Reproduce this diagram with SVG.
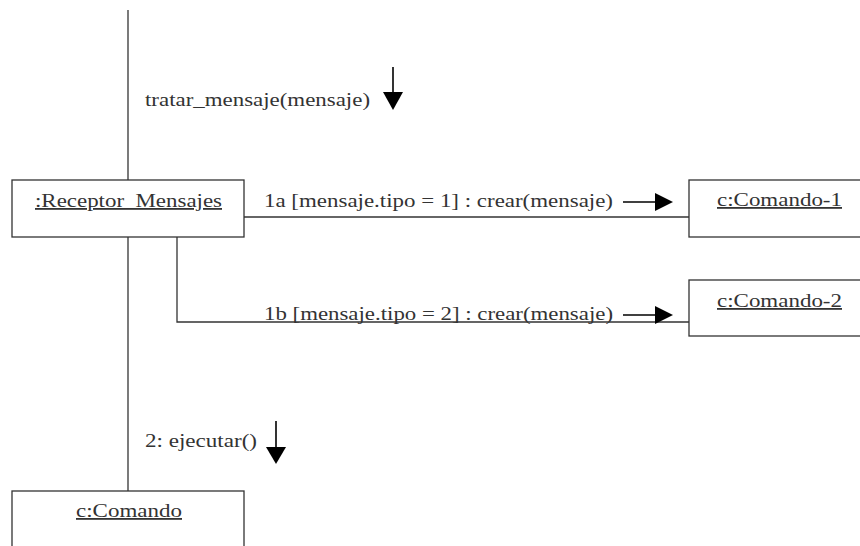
<svg xmlns="http://www.w3.org/2000/svg" width="860" height="546" viewBox="0 0 860 546">
<style>
.box{fill:#fff;stroke:#333;stroke-width:1.3}
.ln{stroke:#333;stroke-width:1.3;fill:none}
.t{font-family:"Liberation Serif","Times New Roman",serif;font-size:18px;fill:#333}
.u{text-decoration:underline}
.ar{stroke:#000;stroke-width:1.6;fill:none}
.hd{fill:#000}
</style>
<g id="connectors">
<line class="ln" x1="128" y1="10" x2="128" y2="180"/>
<line class="ln" x1="244" y1="217" x2="689" y2="217"/>
<polyline class="ln" points="177,237 177,322 689,322"/>
<line class="ln" x1="128" y1="237" x2="128" y2="491"/>
<text class="t" x="145" y="106" textLength="225" lengthAdjust="spacingAndGlyphs">tratar_mensaje(mensaje)</text>
<line class="ar" x1="393" y1="67" x2="393" y2="93"/>
<polygon class="hd" points="383,92 403,92 393,110"/>
<text class="t" x="264" y="207" textLength="349" lengthAdjust="spacingAndGlyphs">1a [mensaje.tipo = 1] : crear(mensaje)</text>
<line class="ar" x1="623" y1="202" x2="656" y2="202"/>
<polygon class="hd" points="655,193 655,211 673,202"/>
<text class="t" x="264" y="320" textLength="349" lengthAdjust="spacingAndGlyphs">1b [mensaje.tipo = 2] : crear(mensaje)</text>
<line class="ar" x1="623" y1="315" x2="656" y2="315"/>
<polygon class="hd" points="655,306 655,324 673,315"/>
<text class="t" x="145" y="447" textLength="112" lengthAdjust="spacingAndGlyphs">2: ejecutar()</text>
<line class="ar" x1="276" y1="421" x2="276" y2="448"/>
<polygon class="hd" points="266,447 286,447 276,464"/>
</g>
<g id="receptor">
<rect class="box" x="12" y="180" width="232" height="57"/>
<text class="t u" x="35" y="207" textLength="187" lengthAdjust="spacingAndGlyphs">:Receptor_Mensajes</text>
</g>
<g id="comando1">
<rect class="box" x="689" y="180" width="180" height="57"/>
<text class="t u" x="717" y="206" textLength="125" lengthAdjust="spacingAndGlyphs">c:Comando-1</text>
</g>
<g id="comando2">
<rect class="box" x="689" y="280" width="180" height="56"/>
<text class="t u" x="717" y="307" textLength="125" lengthAdjust="spacingAndGlyphs">c:Comando-2</text>
</g>
<g id="comando">
<rect class="box" x="12" y="491" width="232" height="70"/>
<text class="t u" x="76" y="517" textLength="106" lengthAdjust="spacingAndGlyphs">c:Comando</text>
</g>
</svg>
